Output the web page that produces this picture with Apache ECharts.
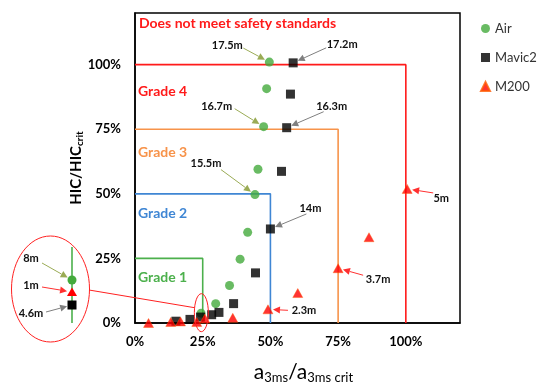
<!DOCTYPE html>
<html><head><meta charset="utf-8">
<script src="https://cdn.jsdelivr.net/npm/echarts@6/dist/echarts.min.js"></script>
<style>html,body{margin:0;padding:0;background:#fff}#c{width:550px;height:389px}</style>
</head><body><div id="c"></div>
<script>
// ---- data ----
const tickLabels = ['0%', '25%', '50%', '75%', '100%'];
const airData = [[49.6,101],[48.6,90.7],[47.5,76],[45.4,59.5],[44.3,49.7],[41.6,35.1],[38.8,24.7],[34.9,14.5],[29.8,7.5],[24.4,3.8]];
const mavicData = [[58.4,100.7],[57.4,88.6],[56.0,75.6],[54.1,58.7],[50.0,36.4],[44.5,19.4],[36.4,7.5],[31.0,4.1],[28.3,3.2],[24.2,2.3],[20.3,1.4],[15.1,0.7]];
const m200Data = [[100.5,51.9],[86.4,33.2],[75.0,21.2],[60.1,11.6],[49.1,5.3],[36.1,2.0],[25.8,1.7],[22.8,0.4],[16.8,0.6],[13.2,0.4],[5.0,0.0]];
const gradeLevels = [25, 50, 75, 100];
const gradeNames = ['Grade 1', 'Grade 2', 'Grade 3', 'Grade 4'];
const topLabel = 'Does not meet safety standards';
// annotations: series index, point index, text
const annotations = [
  {s:0, i:0, t:'17.5m'}, {s:0, i:2, t:'16.7m'}, {s:0, i:4, t:'15.5m'},
  {s:1, i:0, t:'17.2m'}, {s:1, i:2, t:'16.3m'}, {s:1, i:4, t:'14m'},
  {s:2, i:0, t:'5m'}, {s:2, i:2, t:'3.7m'}, {s:2, i:4, t:'2.3m'}
];
const insetLabels = ['8m', '1m', '4.6m'];

// ---- styles ----
const gradeColors = ['#4cb04c', '#3f86d4', '#f7934a', '#ff1a1a'];
const FONT = 'Lato, "Open Sans", sans-serif';
const annOffsets = [
  {dx:-42,dy:-17,sx:-26,sy:-14}, {dx:-47,dy:-20,sx:-29,sy:-18}, {dx:-49,dy:-31,sx:-34,sy:-25},
  {dx:49,dy:-18,sx:33,sy:-15}, {dx:45,dy:-21,sx:37,sy:-16}, {dx:40,dy:-21,sx:36,sy:-15},
  {dx:34,dy:10,sx:26,sy:4}, {dx:40,dy:11,sx:25,sy:7}, {dx:36,dy:1,sx:20,sy:1}
];
const arrowColors = ['#9aab55', '#7f7f7f', '#ff3030'];
const seriesData = [airData, mavicData, m200Data];

const chart = echarts.init(document.getElementById('c'));
const gradeSeries = gradeLevels.map((g, k) => ({
  type: 'line', silent: true, symbol: 'none', z: 1,
  data: [[0, g], [g, g], [g, 0]],
  lineStyle: {color: gradeColors[k], width: 1.6}
}));
chart.setOption({
  animation: false,
  textStyle: {fontFamily: FONT},
  grid: {left: 135, right: 90, top: 13, bottom: 66, show: true, borderColor: '#000', borderWidth: 1.5, backgroundColor: 'transparent'},
  legend: {
    data: [{name: 'Air', icon: 'circle'}, {name: 'Mavic2', icon: 'rect'}, {name: 'M200', icon: 'triangle'}],
    orient: 'vertical', left: 475, top: 17, padding: [5, 5, 5, 5],
    itemWidth: 9, itemHeight: 9, itemGap: 16,
    textStyle: {fontSize: 13, color: '#333', fontFamily: FONT}
  },
  xAxis: {
    type: 'value', min: 0, max: 120, interval: 25,
    splitLine: {show: false}, axisTick: {show: false},
    axisLine: {lineStyle: {color: '#000', width: 1.5}},
    axisLabel: {margin: 12, fontSize: 13, fontWeight: 'bold', color: '#000',
      formatter: v => (v / 25 < tickLabels.length && v % 25 === 0) ? tickLabels[v / 25] : ''},
    name: '{a|a}{s|3ms}{a|/a}{s|3ms crit}', nameLocation: 'middle', nameGap: 38, nameMoveOverlap: false,
    nameTextStyle: {padding: [0, 0, 0, 12], rich: {a: {fontSize: 21, color: '#000', fontFamily: FONT}, s: {fontSize: 13, color: '#000', fontFamily: FONT, padding: [10, 0, 0, 0]}}}
  },
  yAxis: {
    type: 'value', min: 0, max: 120, interval: 25,
    splitLine: {show: false}, axisTick: {show: false},
    axisLine: {lineStyle: {color: '#000', width: 1.5}},
    axisLabel: {margin: 14, fontSize: 13, fontWeight: 'bold', color: '#000',
      formatter: v => (v / 25 < tickLabels.length && v % 25 === 0) ? tickLabels[v / 25] : ''},
    name: '{h|HIC/HIC}{c|crit}', nameLocation: 'middle', nameGap: 50, nameRotate: 90, nameMoveOverlap: false,
    nameTextStyle: {rich: {h: {fontSize: 15, fontWeight: 'bold', color: '#000', fontFamily: FONT}, c: {fontSize: 10, fontWeight: 'bold', color: '#000', fontFamily: FONT, padding: [8, 0, 0, 0]}}}
  },
  series: gradeSeries.concat([
    {name: 'Air', type: 'scatter', symbol: 'circle', symbolSize: 9, z: 3, data: airData, itemStyle: {color: '#44aa3c'}},
    {name: 'Mavic2', type: 'scatter', symbol: 'rect', symbolSize: 9, z: 3, data: mavicData, itemStyle: {color: '#000'}},
    {name: 'M200', type: 'scatter', symbol: 'triangle', symbolSize: [10, 9], z: 4, data: m200Data, itemStyle: {color: '#ff0000', borderColor: '#ff5a00', borderWidth: 0.5}}
  ])
});

function px(p) { return chart.convertToPixel({gridIndex: 0}, p); }
function arrow(x1, y1, x2, y2, color, shorten) {
  const dx = x2 - x1, dy = y2 - y1, L = Math.sqrt(dx * dx + dy * dy);
  const ux = dx / L, uy = dy / L;
  const ex = x2 - ux * shorten, ey = y2 - uy * shorten;
  const hl = 7, hw = 3.5;
  const bx = ex - ux * hl, by = ey - uy * hl;
  return [
    {type: 'line', shape: {x1: x1, y1: y1, x2: bx, y2: by}, style: {stroke: color, lineWidth: 1}, z: 10},
    {type: 'polygon', shape: {points: [[ex, ey], [bx - uy * hw, by + ux * hw], [bx + uy * hw, by - ux * hw]]}, style: {fill: color}, z: 10}
  ];
}
function txt(x, y, t, color, size, bold, align) {
  return {type: 'text', x: x, y: y, z: 11, style: {text: t, fill: color, font: (bold ? 'bold ' : '') + size + 'px ' + FONT, align: align || 'center', verticalAlign: 'middle'}};
}

const g = [];
// region labels
g.push(txt(139, 23, topLabel, gradeColors[3], 14, true, 'left'));
const gradeLabelY = [277, 213, 152, 91];
gradeNames.forEach((n, k) => g.push(txt(138, gradeLabelY[k], n, gradeColors[k], 14, true, 'left')));
// annotations
annotations.forEach((a, k) => {
  const p = px(seriesData[a.s][a.i]);
  const o = annOffsets[k];
  g.push(txt(p[0] + o.dx, p[1] + o.dy, a.t, '#111', 11, true));
  arrow(p[0] + o.sx, p[1] + o.sy, p[0], p[1], arrowColors[a.s], 5).forEach(e => g.push(e));
});
// small ellipse around the 25% cluster
const c = px([24.5, 4]);
g.push({type: 'ellipse', shape: {cx: c[0], cy: c[1], rx: 7, ry: 19}, style: {fill: 'none', stroke: '#ff2020', lineWidth: 1}, z: 9});
// inset
g.push({type: 'ellipse', shape: {cx: 50.5, cy: 289, rx: 39, ry: 53}, style: {fill: 'none', stroke: '#ff2020', lineWidth: 1}, z: 9});
g.push({type: 'line', shape: {x1: 89, y1: 290, x2: c[0] - 7, y2: c[1] - 5}, style: {stroke: '#ff2020', lineWidth: 1}, z: 9});
g.push({type: 'line', shape: {x1: 72, y1: 247, x2: 72, y2: 323}, style: {stroke: gradeColors[0], lineWidth: 1.6}, z: 9});
g.push({type: 'circle', shape: {cx: 72, cy: 280, r: 4.5}, style: {fill: '#44aa3c'}, z: 10});
g.push({type: 'polygon', shape: {points: [[72, 287.5], [77, 296], [67, 296]]}, style: {fill: '#ff0000'}, z: 10});
g.push({type: 'rect', shape: {x: 67.5, y: 300.5, width: 9, height: 9}, style: {fill: '#000'}, z: 10});
g.push(txt(31, 258, insetLabels[0], '#111', 11, true));
g.push(txt(31, 285, insetLabels[1], '#111', 11, true));
g.push(txt(31, 313, insetLabels[2], '#111', 11, true));
arrow(42, 263, 72, 280, arrowColors[0], 5).forEach(e => g.push(e));
arrow(42, 287, 72, 292, arrowColors[2], 5).forEach(e => g.push(e));
arrow(46, 312, 72, 305, arrowColors[1], 5).forEach(e => g.push(e));
chart.setOption({graphic: g});
</script></body></html>
